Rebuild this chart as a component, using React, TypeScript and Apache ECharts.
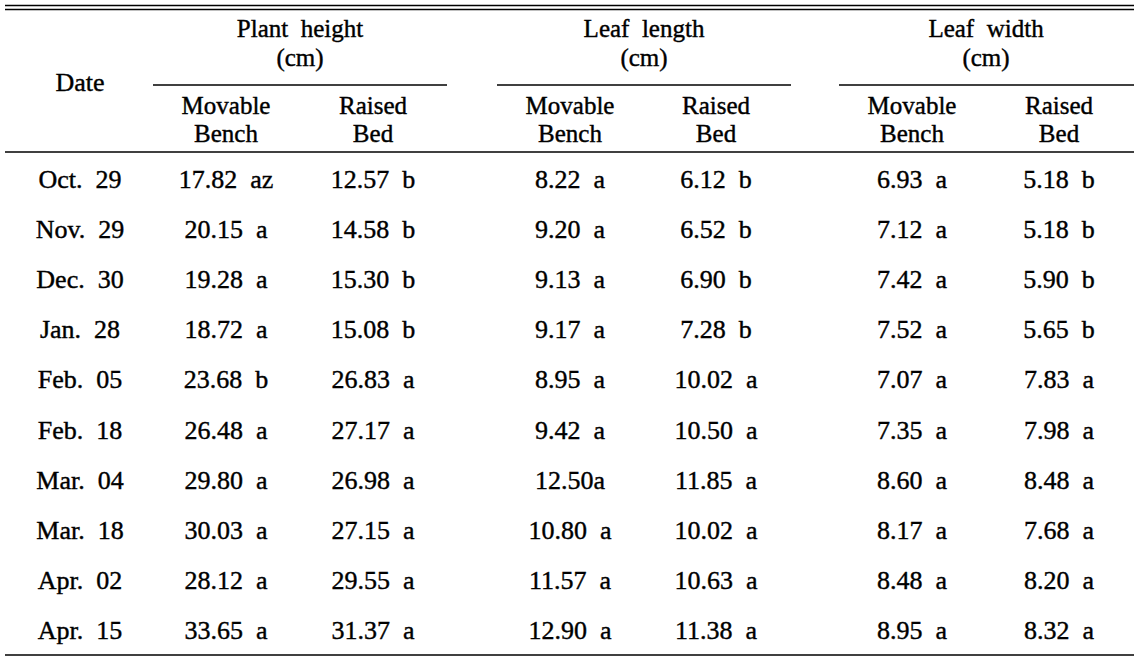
import React, { useEffect, useRef } from "react";
import * as echarts from "echarts";

const dates = [
  "Oct. 29", "Nov. 29", "Dec. 30", "Jan. 28", "Feb. 05",
  "Feb. 18", "Mar. 04", "Mar. 18", "Apr. 02", "Apr. 15",
];

const plantMovable = ["17.82 az", "20.15 a", "19.28 a", "18.72 a", "23.68 b", "26.48 a", "29.80 a", "30.03 a", "28.12 a", "33.65 a"];
const plantRaised = ["12.57 b", "14.58 b", "15.30 b", "15.08 b", "26.83 a", "27.17 a", "26.98 a", "27.15 a", "29.55 a", "31.37 a"];
const leafLenMovable = ["8.22 a", "9.20 a", "9.13 a", "9.17 a", "8.95 a", "9.42 a", "12.50a", "10.80 a", "11.57 a", "12.90 a"];
const leafLenRaised = ["6.12 b", "6.52 b", "6.90 b", "7.28 b", "10.02 a", "10.50 a", "11.85 a", "10.02 a", "10.63 a", "11.38 a"];
const leafWidMovable = ["6.93 a", "7.12 a", "7.42 a", "7.52 a", "7.07 a", "7.35 a", "8.60 a", "8.17 a", "8.48 a", "8.95 a"];
const leafWidRaised = ["5.18 b", "5.18 b", "5.90 b", "5.65 b", "7.83 a", "7.98 a", "8.48 a", "7.68 a", "8.20 a", "8.32 a"];

const groupTitles = ["Plant height", "Leaf length", "Leaf width"];
const groupUnit = "(cm)";
const subTitles = [["Movable", "Bench"], ["Raised", "Bed"]];
const dateTitle = "Date";

const columns = [plantMovable, plantRaised, leafLenMovable, leafLenRaised, leafWidMovable, leafWidRaised];

// layout
const FONT = "Liberation Serif";
const FS = 26;
const HFS = 25;
const dateX = 80;
const colX = [226, 373, 570, 716, 912, 1059];
const groupX = [300, 644, 986];
const groupLine = [[153, 447], [497, 791], [839, 1134]];
const rowY0 = 179;
const rowStep = 50.2;
const LEFT = 5;
const RIGHT = 1134;

const spaced = (s: string) => s.replace(/ /g, "\u00A0\u00A0");

function txt(text: string, x: number, y: number, size = FS) {
  return {
    type: "text",
    x,
    y,
    style: {
      text: spaced(text),
      align: "center",
      verticalAlign: "middle",
      fontSize: size,
      fontFamily: FONT,
      fill: "#000",
      stroke: "#000",
      lineWidth: 0.4,
    },
  };
}

function hline(x1: number, x2: number, y: number, w = 1.3) {
  return {
    type: "line",
    shape: { x1, y1: y, x2, y2: y },
    style: { stroke: "#000", lineWidth: w },
  };
}

export default function App() {
  const ref = useRef<HTMLDivElement>(null);
  useEffect(() => {
    if (!ref.current) return;
    const chart = echarts.init(ref.current, undefined, { renderer: "svg" });
    const elements: any[] = [];
    elements.push(hline(LEFT, RIGHT, 5.5, 1.5));
    elements.push(hline(LEFT, RIGHT, 9.5, 1.5));
    elements.push(txt(dateTitle, dateX, 82));
    groupTitles.forEach((g, i) => {
      elements.push(txt(g, groupX[i], 28.5, HFS));
      elements.push(txt(groupUnit, groupX[i], 57, HFS));
      elements.push(hline(groupLine[i][0], groupLine[i][1], 85));
    });
    colX.forEach((x, i) => {
      const st = subTitles[i % 2];
      elements.push(txt(st[0], x, 105, HFS));
      elements.push(txt(st[1], x, 133.5, HFS));
    });
    elements.push(hline(LEFT, RIGHT, 152));
    dates.forEach((d, r) => {
      const y = rowY0 + r * rowStep;
      elements.push(txt(d, dateX, y));
      columns.forEach((col, c) => {
        elements.push(txt(col[r], colX[c], y));
      });
    });
    elements.push(hline(LEFT, RIGHT, 655));
    chart.setOption({
      animation: false,
      backgroundColor: "#fff",
      graphic: { elements },
    });
    return () => chart.dispose();
  }, []);
  return (
    <div
      ref={ref}
      style={{ position: "fixed", left: 0, top: 0, width: 1136, height: 662 }}
    />
  );
}
